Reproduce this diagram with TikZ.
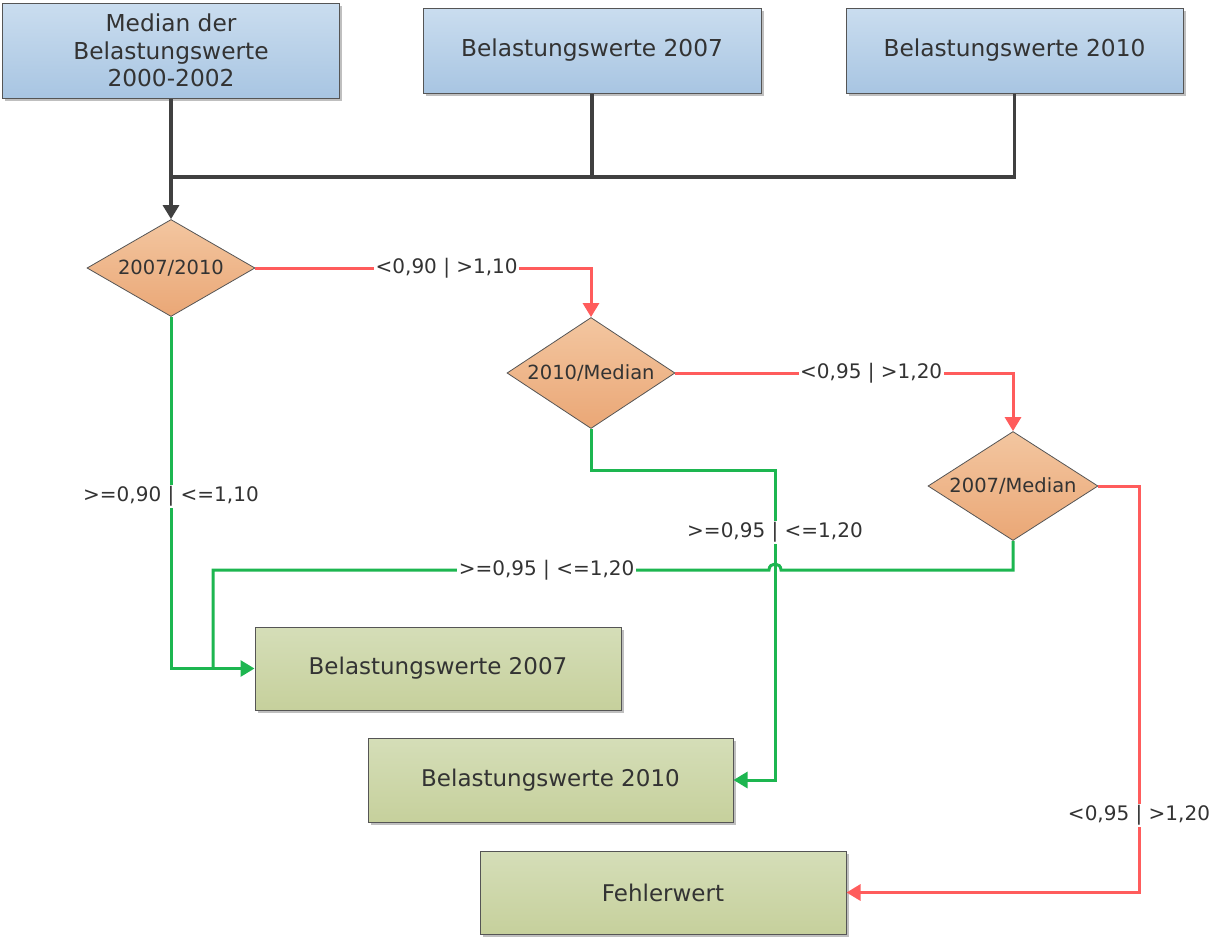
\documentclass[tikz,border=0pt]{standalone}
\usepackage{fontspec}
\setmainfont{DejaVu Sans}
\usetikzlibrary{shapes.geometric,arrows.meta,shadows}
\definecolor{txt}{HTML}{333333}
\definecolor{bluetop}{HTML}{CADDEF}
\definecolor{bluebot}{HTML}{A8C5E2}
\definecolor{greentop}{HTML}{D5DEB8}
\definecolor{greenbot}{HTML}{C6D09C}
\definecolor{orangetop}{HTML}{F3C6A0}
\definecolor{orangebot}{HTML}{EAA776}
\definecolor{edge}{HTML}{555555}
\definecolor{darkline}{HTML}{404040}
\definecolor{redline}{HTML}{FF5C5C}
\definecolor{greenline}{HTML}{1DB650}
\tikzset{
  shad/.style={drop shadow={shadow xshift=2.5pt,shadow yshift=-2.5pt,opacity=0.25,fill=black}},
  topbox/.style={draw=edge,line width=1pt,top color=bluetop,bottom color=bluebot,shad,text=txt,align=center,inner sep=0pt,
     font=\fontsize{23.3}{27.5}\selectfont},
  resbox/.style={draw=edge,line width=1pt,top color=greentop,bottom color=greenbot,shad,text=txt,align=center,inner sep=0pt,
     font=\fontsize{23}{27}\selectfont},
  decision/.style={diamond,draw=edge,line width=0.8pt,top color=orangetop,bottom color=orangebot,text=txt,inner sep=0pt,aspect=1.7,
     font=\fontsize{19.5}{22}\selectfont},
  lbl/.style={fill=white,text=txt,inner sep=1.5pt,font=\fontsize{20}{22}\selectfont},
  darkconn/.style={draw=darkline,line width=3.2pt},
  redconn/.style={draw=redline,line width=3pt},
  greenconn/.style={draw=greenline,line width=3pt},
  tip/.style={-{Triangle[length=14pt,width=16pt]}},
}
\begin{document}
\begin{tikzpicture}[x=1pt,y=-1pt]
\useasboundingbox (0,0) rectangle (1212,938);
% top boxes
\node[topbox,minimum width=337pt,minimum height=95pt] (m) at (171,50.5) {Median der\\Belastungswerte\\2000-2002};
\node[topbox,minimum width=338pt,minimum height=85pt] (b7) at (592,50.5) {Belastungswerte 2007};
\node[topbox,minimum width=337pt,minimum height=85pt] (b10) at (1014.5,50.5) {Belastungswerte 2010};
% decisions
\node[decision,minimum width=168pt,minimum height=97pt] (d1) at (171,268) {2007/2010};
\node[decision,minimum width=168pt,minimum height=111pt] (d2) at (591,373) {2010/Median};
\node[decision,minimum width=170pt,minimum height=109pt] (d3) at (1013,486) {2007/Median};
% results
\node[resbox,minimum width=366pt,minimum height=83pt] (r7) at (438,668.5) {Belastungswerte 2007};
\node[resbox,minimum width=365pt,minimum height=84pt] (r10) at (550.5,780) {Belastungswerte 2010};
\node[resbox,minimum width=366pt,minimum height=83pt] (fe) at (663,892.5) {Fehlerwert};
% coordinates
\coordinate (j) at (171,177);
\coordinate (g3a) at (1013,570);
\coordinate (g3b) at (213,570);
\coordinate (g2a) at (591,470);
\coordinate (g2b) at (775,470);
\coordinate (rr) at (1139,486);
% top connectors
\draw[darkconn] (b7.south) |- (j);
\draw[darkconn] (b10.south) |- (j);
\draw[darkconn,tip] (m.south) -- (d1.north);
% red connectors
\draw[redconn,tip] (d1.east) -- node[lbl,pos=0.57] {<0,90 | >1,10} (d1.east -| d2.north) -- (d2.north);
\draw[redconn,tip] (d2.east) -- node[lbl,pos=0.58] {<0,95 | >1,20} (d2.east -| d3.north) -- (d3.north);
\draw[redconn,tip] (d3.east) -- (rr) -- node[lbl,pos=0.81] {<0,95 | >1,20} (rr |- fe.east) -- (fe.east);
% green connectors
\draw[greenconn,tip] (d1.south) -- node[lbl,pos=0.51] {>=0,90 | <=1,10} (d1.south |- r7.west) -- (r7.west);
\draw[greenconn,tip] (d2.south) -- (g2a) -- (g2b) -- node[lbl,pos=0.2] {>=0,95 | <=1,20} (g2b |- r10.east) -- (r10.east);
\draw[greenconn] (d3.south) -- (g3a) -- (781,570) .. controls (781,562) and (769,562) .. (769,570)
   -- node[lbl,pos=0.4] {>=0,95 | <=1,20} (g3b) -- (g3b |- r7.west);
\end{tikzpicture}
\end{document}
